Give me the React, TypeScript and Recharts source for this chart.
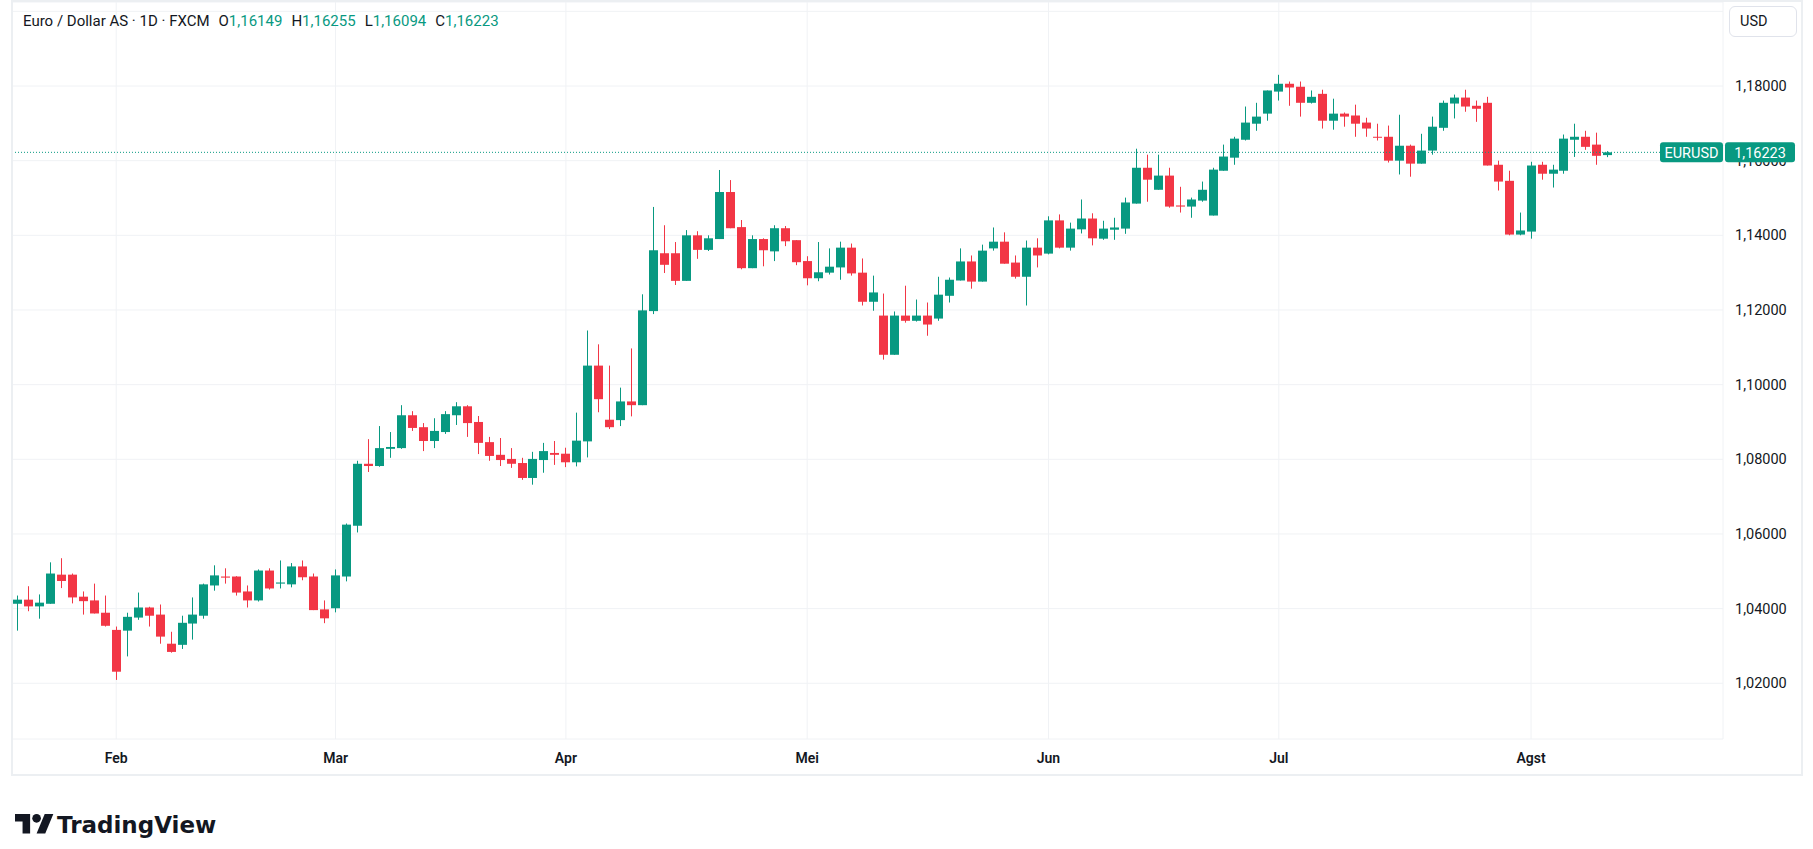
import {
  ComposedChart,
  Bar,
  XAxis,
  YAxis,
  CartesianGrid,
  ReferenceLine,
} from 'recharts';

// EUR/USD daily, FXCM
const dates = [
  '2025-01-21', '2025-01-22', '2025-01-23', '2025-01-24', '2025-01-27', '2025-01-28', '2025-01-29', '2025-01-30', '2025-01-31',
  '2025-02-03', '2025-02-04', '2025-02-05', '2025-02-06', '2025-02-07', '2025-02-10', '2025-02-11', '2025-02-12', '2025-02-13', '2025-02-14',
  '2025-02-17', '2025-02-18', '2025-02-19', '2025-02-20', '2025-02-21', '2025-02-24', '2025-02-25', '2025-02-26', '2025-02-27', '2025-02-28',
  '2025-03-03', '2025-03-04', '2025-03-05', '2025-03-06', '2025-03-07', '2025-03-10', '2025-03-11', '2025-03-12', '2025-03-13', '2025-03-14',
  '2025-03-17', '2025-03-18', '2025-03-19', '2025-03-20', '2025-03-21', '2025-03-24', '2025-03-25', '2025-03-26', '2025-03-27', '2025-03-28',
  '2025-03-31', '2025-04-01', '2025-04-02', '2025-04-03', '2025-04-04', '2025-04-07', '2025-04-08', '2025-04-09', '2025-04-10', '2025-04-11',
  '2025-04-14', '2025-04-15', '2025-04-16', '2025-04-17', '2025-04-18', '2025-04-21', '2025-04-22', '2025-04-23', '2025-04-24', '2025-04-25',
  '2025-04-28', '2025-04-29', '2025-04-30', '2025-05-01', '2025-05-02', '2025-05-05', '2025-05-06', '2025-05-07', '2025-05-08', '2025-05-09',
  '2025-05-12', '2025-05-13', '2025-05-14', '2025-05-15', '2025-05-16', '2025-05-19', '2025-05-20', '2025-05-21', '2025-05-22', '2025-05-23',
  '2025-05-26', '2025-05-27', '2025-05-28', '2025-05-29', '2025-05-30', '2025-06-02', '2025-06-03', '2025-06-04', '2025-06-05', '2025-06-06',
  '2025-06-09', '2025-06-10', '2025-06-11', '2025-06-12', '2025-06-13', '2025-06-16', '2025-06-17', '2025-06-18', '2025-06-19', '2025-06-20',
  '2025-06-23', '2025-06-24', '2025-06-25', '2025-06-26', '2025-06-27', '2025-06-30', '2025-07-01', '2025-07-02', '2025-07-03', '2025-07-04',
  '2025-07-07', '2025-07-08', '2025-07-09', '2025-07-10', '2025-07-11', '2025-07-14', '2025-07-15', '2025-07-16', '2025-07-17', '2025-07-18',
  '2025-07-21', '2025-07-22', '2025-07-23', '2025-07-24', '2025-07-25', '2025-07-28', '2025-07-29', '2025-07-30', '2025-07-31', '2025-08-01',
  '2025-08-04', '2025-08-05', '2025-08-06', '2025-08-07', '2025-08-08', '2025-08-11', '2025-08-12',
  // empty space to the right of the last bar
  '2025-08-13', '2025-08-14', '2025-08-15', '2025-08-18', '2025-08-19', '2025-08-20', '2025-08-21', '2025-08-22', '2025-08-25', '2025-08-26',
];

const opens = [
  1.0413, 1.0424, 1.0406, 1.0413, 1.0491, 1.0491, 1.0432, 1.0422, 1.0389,
  1.0343, 1.0341, 1.0376, 1.0403, 1.0384, 1.0306, 1.0303, 1.0360, 1.0381, 1.0462,
  1.0486, 1.0486, 1.0446, 1.0422, 1.0502, 1.0467, 1.0465, 1.0513, 1.0486, 1.0398,
  1.0401, 1.0486, 1.0622, 1.0788, 1.0782, 1.0828, 1.0830, 1.0918, 1.0886, 1.0849,
  1.0873, 1.0918, 1.0942, 1.0900, 1.0846, 1.0812, 1.0801, 1.0790, 1.0750, 1.0798,
  1.0817, 1.0815, 1.0792, 1.0848, 1.1051, 1.0906, 1.0905, 1.0955, 1.0945, 1.1197,
  1.1352, 1.1352, 1.1278, 1.1400, 1.1361, 1.1390, 1.1516, 1.1422, 1.1312, 1.1390,
  1.1357, 1.1419, 1.1387, 1.1331, 1.1285, 1.1300, 1.1314, 1.1367, 1.1300, 1.1222,
  1.1185, 1.1080, 1.1185, 1.1171, 1.1185, 1.1177, 1.1238, 1.1279, 1.1330, 1.1276,
  1.1365, 1.1383, 1.1327, 1.1289, 1.1367, 1.1351, 1.1440, 1.1367, 1.1416, 1.1445,
  1.1391, 1.1415, 1.1418, 1.1485, 1.1581, 1.1522, 1.1560, 1.1480, 1.1477, 1.1493,
  1.1453, 1.1573, 1.1608, 1.1656, 1.1699, 1.1726, 1.1785, 1.1806, 1.1798, 1.1755,
  1.1779, 1.1707, 1.1726, 1.1721, 1.1702, 1.1664, 1.1664, 1.1600, 1.1640, 1.1592,
  1.1627, 1.1688, 1.1753, 1.1769, 1.1747, 1.1755, 1.1589, 1.1546, 1.1402, 1.1410,
  1.1589, 1.1565, 1.1573, 1.1656, 1.1664, 1.1643, 1.16149,
];

const highs = [
  1.0435, 1.0460, 1.0438, 1.0524, 1.0535, 1.0494, 1.0446, 1.0467, 1.0435,
  1.0352, 1.0389, 1.0443, 1.0405, 1.0411, 1.0338, 1.0381, 1.0430, 1.0467, 1.0516,
  1.0508, 1.0487, 1.0462, 1.0505, 1.0508, 1.0529, 1.0522, 1.0529, 1.0494, 1.0422,
  1.0505, 1.0628, 1.0796, 1.0854, 1.0889, 1.0873, 1.0945, 1.0929, 1.0897, 1.0910,
  1.0929, 1.0953, 1.0945, 1.0916, 1.0860, 1.0857, 1.0830, 1.0804, 1.0820, 1.0844,
  1.0849, 1.0831, 1.0925, 1.1145, 1.1108, 1.1051, 1.0992, 1.1097, 1.1242, 1.1476,
  1.1427, 1.1382, 1.1414, 1.1411, 1.1400, 1.1575, 1.1548, 1.1441, 1.1400, 1.1392,
  1.1427, 1.1425, 1.1387, 1.1344, 1.1382, 1.1365, 1.1383, 1.1378, 1.1338, 1.1292,
  1.1244, 1.1196, 1.1265, 1.1228, 1.1220, 1.1289, 1.1287, 1.1365, 1.1346, 1.1375,
  1.1421, 1.1408, 1.1346, 1.1386, 1.1392, 1.1451, 1.1456, 1.1434, 1.1496, 1.1459,
  1.1439, 1.1447, 1.1501, 1.1632, 1.1616, 1.1616, 1.1581, 1.1530, 1.1501, 1.1544,
  1.1581, 1.1643, 1.1664, 1.1745, 1.1755, 1.1788, 1.1830, 1.1812, 1.1812, 1.1788,
  1.1790, 1.1766, 1.1729, 1.1750, 1.1715, 1.1699, 1.1694, 1.1723, 1.1643, 1.1672,
  1.1718, 1.1761, 1.1777, 1.1790, 1.1761, 1.1771, 1.1600, 1.1573, 1.1461, 1.1597,
  1.1597, 1.1589, 1.1670, 1.1699, 1.1680, 1.1675, 1.16255,
];

const lows = [
  1.0341, 1.0393, 1.0373, 1.0413, 1.0455, 1.0414, 1.0384, 1.0387, 1.0352,
  1.0209, 1.0272, 1.0370, 1.0352, 1.0306, 1.0282, 1.0292, 1.0317, 1.0373, 1.0448,
  1.0467, 1.0435, 1.0403, 1.0419, 1.0451, 1.0454, 1.0457, 1.0476, 1.0396, 1.0361,
  1.0390, 1.0473, 1.0604, 1.0766, 1.0780, 1.0804, 1.0828, 1.0876, 1.0822, 1.0830,
  1.0868, 1.0892, 1.0860, 1.0814, 1.0796, 1.0782, 1.0777, 1.0745, 1.0732, 1.0764,
  1.0785, 1.0779, 1.0781, 1.0805, 1.0926, 1.0881, 1.0889, 1.0915, 1.0945, 1.1189,
  1.1299, 1.1267, 1.1278, 1.1337, 1.1358, 1.1390, 1.1419, 1.1309, 1.1312, 1.1317,
  1.1331, 1.1371, 1.1320, 1.1266, 1.1277, 1.1295, 1.1281, 1.1292, 1.1212, 1.1198,
  1.1067, 1.1080, 1.1166, 1.1169, 1.1131, 1.1171, 1.1220, 1.1279, 1.1257, 1.1276,
  1.1359, 1.1324, 1.1284, 1.1212, 1.1314, 1.1349, 1.1365, 1.1359, 1.1405, 1.1373,
  1.1388, 1.1388, 1.1404, 1.1485, 1.1490, 1.1522, 1.1474, 1.1461, 1.1447, 1.1490,
  1.1453, 1.1573, 1.1589, 1.1654, 1.1680, 1.1707, 1.1761, 1.1747, 1.1718, 1.1753,
  1.1686, 1.1683, 1.1691, 1.1664, 1.1664, 1.1654, 1.1595, 1.1563, 1.1557, 1.1592,
  1.1616, 1.1680, 1.1713, 1.1731, 1.1704, 1.1587, 1.1520, 1.1400, 1.1400, 1.1391,
  1.1549, 1.1528, 1.1565, 1.1610, 1.1629, 1.1589, 1.16094,
];

const closes = [
  1.0424, 1.0406, 1.0416, 1.0494, 1.0474, 1.0430, 1.0420, 1.0387, 1.0354,
  1.0231, 1.0378, 1.0403, 1.0381, 1.0325, 1.0284, 1.0362, 1.0384, 1.0465, 1.0489,
  1.0483, 1.0443, 1.0422, 1.0502, 1.0454, 1.0470, 1.0513, 1.0484, 1.0396, 1.0374,
  1.0489, 1.0625, 1.0788, 1.0782, 1.0830, 1.0833, 1.0918, 1.0884, 1.0849, 1.0876,
  1.0921, 1.0942, 1.0897, 1.0844, 1.0809, 1.0798, 1.0788, 1.0750, 1.0801, 1.0822,
  1.0812, 1.0792, 1.0850, 1.1051, 1.0961, 1.0886, 1.0955, 1.0945, 1.1199, 1.1360,
  1.1321, 1.1278, 1.1400, 1.1361, 1.1392, 1.1516, 1.1419, 1.1312, 1.1390, 1.1360,
  1.1419, 1.1384, 1.1328, 1.1285, 1.1301, 1.1316, 1.1367, 1.1298, 1.1222, 1.1247,
  1.1080, 1.1185, 1.1171, 1.1185, 1.1161, 1.1241, 1.1281, 1.1330, 1.1276, 1.1359,
  1.1383, 1.1324, 1.1289, 1.1367, 1.1346, 1.1440, 1.1367, 1.1418, 1.1445, 1.1392,
  1.1418, 1.1421, 1.1488, 1.1581, 1.1549, 1.1560, 1.1477, 1.1477, 1.1496, 1.1522,
  1.1576, 1.1611, 1.1659, 1.1702, 1.1718, 1.1788, 1.1806, 1.1796, 1.1755, 1.1771,
  1.1707, 1.1726, 1.1718, 1.1699, 1.1686, 1.1662, 1.1600, 1.1640, 1.1592, 1.1627,
  1.1691, 1.1755, 1.1769, 1.1745, 1.1739, 1.1587, 1.1544, 1.1402, 1.1413, 1.1587,
  1.1565, 1.1576, 1.1659, 1.1664, 1.1637, 1.1613, 1.16223,
];

const monthTicks = ['2025-02-03', '2025-03-03', '2025-04-01', '2025-05-01', '2025-06-02', '2025-07-01', '2025-08-01'];
const monthLabels = ['Feb', 'Mar', 'Apr', 'Mei', 'Jun', 'Jul', 'Agst'];
const priceTicks = [1.02, 1.04, 1.06, 1.08, 1.1, 1.12, 1.14, 1.16, 1.18, 1.2];

const symbol = 'EURUSD';
const title = 'Euro / Dollar AS · 1D · FXCM';

const UP = '#089981';
const DOWN = '#f23645';
const TEXT = '#131722';
const GRID = '#f0f2f5';
const FONT = 'Roboto, sans-serif';

const rows = dates.map((date, i) => ({
  date,
  o: opens[i] ?? null,
  h: highs[i] ?? null,
  l: lows[i] ?? null,
  c: closes[i] ?? null,
}));

const last = opens.length - 1;
const fmt = (v: number) => v.toFixed(5).replace('.', ',');
// the top gridline label sits under the currency button, TradingView leaves it out
const fmtTick = (v: number) => (v >= 1.2 ? '' : fmt(v));

const Candle = (props: any) => {
  const { x, y, width, height, payload } = props;
  if (!payload || payload.o == null) return null;
  const top = Math.min(y, y + height);
  const h = Math.abs(height);
  const span = payload.h - payload.l;
  const toY = (p: number) => (span === 0 ? top : top + ((payload.h - p) / span) * h);
  const yo = toY(payload.o);
  const yc = toY(payload.c);
  const color = payload.c >= payload.o ? UP : DOWN;
  const cx = Math.floor(x + width / 2) + 0.5;
  return (
    <g>
      <line x1={cx} x2={cx} y1={top} y2={top + h} stroke={color} strokeWidth={1} />
      <rect
        x={Math.round(x)}
        y={Math.min(yo, yc)}
        width={Math.round(width)}
        height={Math.max(1, Math.abs(yc - yo))}
        fill={color}
      />
    </g>
  );
};

const PriceTag = (props: any) => {
  const vb = props.viewBox;
  if (!vb) return null;
  const right = vb.x + vb.width;
  const cy = vb.y;
  return (
    <g fontFamily={FONT} fontSize={14.5}>
      <rect x={right - 63} y={cy - 10} width={63} height={20} rx={3} fill={UP} />
      <text x={right - 31.5} y={cy} dy="0.36em" textAnchor="middle" fill="#fff">{symbol}</text>
      <rect x={right + 2} y={cy - 10} width={70} height={20} rx={3} fill={UP} />
      <text x={right + 37} y={cy} dy="0.36em" textAnchor="middle" fill="#fff">{fmt(closes[last])}</text>
    </g>
  );
};

export default function App() {
  return (
    <div style={{ position: 'absolute', left: 0, top: 0, width: 1813, height: 849, background: '#fff' }}>
      <div style={{ position: 'absolute', left: 12, top: 2 }}>
        <ComposedChart
          width={1790}
          height={772}
          data={rows}
          margin={{ top: 0, right: 0, bottom: 0, left: 0 }}
        >
          <CartesianGrid stroke={GRID} />
          <XAxis
            dataKey="date"
            ticks={monthTicks}
            interval={0}
            height={35}
            axisLine={false}
            tickLine={false}
            tickSize={0}
            tickMargin={14}
            tickFormatter={(d: string) => monthLabels[monthTicks.indexOf(d)] ?? ''}
            tick={{ fill: TEXT, fontSize: 14, fontWeight: 600, fontFamily: FONT }}
          />
          <YAxis
            orientation="right"
            width={79}
            domain={[1.005074, 1.202502]}
            allowDataOverflow
            ticks={priceTicks}
            interval={0}
            axisLine={false}
            tickLine={false}
            tickSize={0}
            tickMargin={12}
            tickFormatter={fmtTick}
            tick={{ fill: TEXT, fontSize: 14.5, fontFamily: FONT, textAnchor: 'start' }}
          />
          <Bar
            dataKey={(r: any) => (r.o == null ? null : [r.l, r.h])}
            barSize={9}
            shape={<Candle />}
            isAnimationActive={false}
          />
          <ReferenceLine
            y={closes[last]}
            stroke={UP}
            strokeWidth={1}
            strokeDasharray="1 2"
            label={<PriceTag />}
            zIndex={2000}
          />
        </ComposedChart>
      </div>

      {/* frame around the chart pane */}
      <div
        style={{
          position: 'absolute',
          left: 11,
          top: 0,
          width: 1792,
          height: 776,
          boxSizing: 'border-box',
          border: '2px solid #eceff2',
          pointerEvents: 'none',
        }}
      />

      {/* legend line */}
      <div
        style={{
          position: 'absolute',
          left: 23,
          top: 11,
          fontFamily: FONT,
          fontSize: 15,
          lineHeight: '20px',
          color: TEXT,
          whiteSpace: 'pre',
        }}
      >
        {title}
        <span style={{ marginLeft: 9 }}>O</span>
        <span style={{ color: UP }}>{fmt(opens[last])}</span>
        <span style={{ marginLeft: 9 }}>H</span>
        <span style={{ color: UP }}>{fmt(highs[last])}</span>
        <span style={{ marginLeft: 9 }}>L</span>
        <span style={{ color: UP }}>{fmt(lows[last])}</span>
        <span style={{ marginLeft: 9 }}>C</span>
        <span style={{ color: UP }}>{fmt(closes[last])}</span>
      </div>

      {/* currency button */}
      <div
        style={{
          position: 'absolute',
          left: 1729,
          top: 6,
          width: 68,
          height: 31,
          boxSizing: 'border-box',
          border: '1px solid #e0e3eb',
          borderRadius: 6,
          background: '#fff',
          fontFamily: FONT,
          fontSize: 14.5,
          lineHeight: '29px',
          color: TEXT,
          paddingLeft: 10,
        }}
      >
        USD
      </div>

      {/* TradingView wordmark */}
      <svg style={{ position: 'absolute', left: 0, top: 800 }} width={260} height={49}>
        <g transform="translate(15 14) scale(1.08)" fill={TEXT}>
          <path d="M14 18H7V7H0V0h14v18z" />
          <circle cx={20} cy={4} r={4} />
          <path d="M28 18h-8l7.5-18h8L28 18z" />
        </g>
        <text x={57} y={33} fontFamily="DejaVu Sans, sans-serif" fontWeight={700} fontSize={23} fill={TEXT}>
          TradingView
        </text>
      </svg>
    </div>
  );
}
